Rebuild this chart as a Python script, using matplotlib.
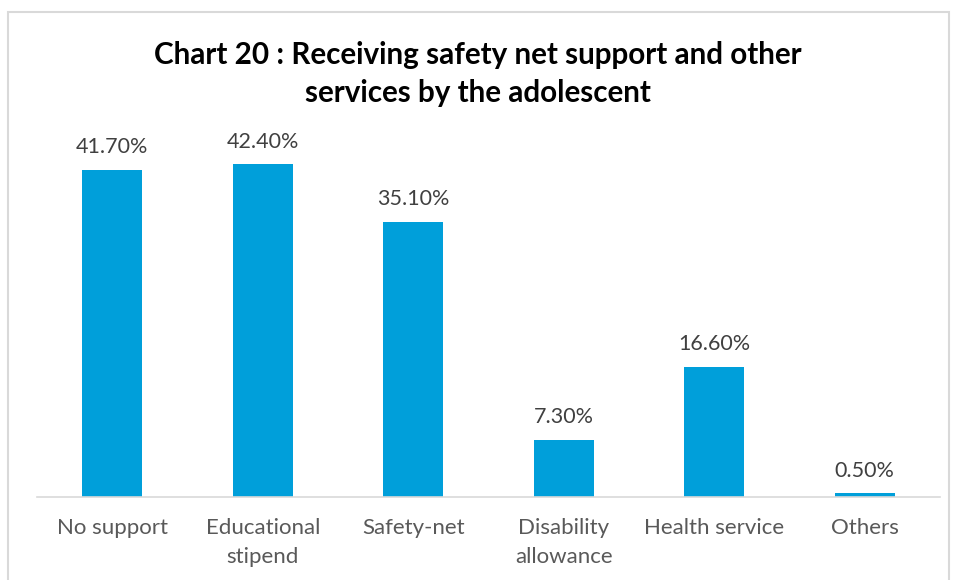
import matplotlib
matplotlib.use("Agg")
import matplotlib.pyplot as plt
from matplotlib.patches import Rectangle

categories = ["No support", "Educational\nstipend", "Safety-net", "Disability\nallowance", "Health service", "Others"]
values = [41.7, 42.4, 35.1, 7.3, 16.6, 0.5]
labels = ["41.70%", "42.40%", "35.10%", "7.30%", "16.60%", "0.50%"]

plt.rcParams['font.family'] = ['Lato', 'DejaVu Sans']

W, H = 956, 580
fig = plt.figure(figsize=(W / 100, H / 100), dpi=100)

# light frame around the whole chart
fig.patches.append(Rectangle((8 / W, -0.01), (949 - 8) / W, 1.01 - 12 / H,
                             transform=fig.transFigure, fill=False,
                             edgecolor="#D9D9D9", linewidth=1.5))

ax = fig.add_axes([37 / W, (H - 497) / H, (940 - 37) / W, (497 - 144) / H])
x = range(len(categories))
ax.bar(x, values, width=0.4, color="#009FDA")
for xi, v, lab in zip(x, values, labels):
    ax.text(xi, v + 1.6, lab, ha="center", va="bottom", fontsize=15.5, color="#404040")

ax.set_xlim(-0.5, len(categories) - 0.5)
ax.set_ylim(0, 45)
ax.set_xticks(list(x))
ax.set_xticklabels(categories, fontsize=16, color="#595959", linespacing=1.6)
ax.tick_params(axis="x", length=0, pad=15)
ax.set_yticks([])
for s in ["top", "right", "left"]:
    ax.spines[s].set_visible(False)
ax.spines["bottom"].set_color("#D9D9D9")
ax.spines["bottom"].set_linewidth(1.2)

fig.text(0.5, 1 - 55 / H, "Chart 20 : Receiving safety net support and other", ha="center", va="center",
         fontsize=21.3, fontweight="bold", color="black")
fig.text(0.5, 1 - 93 / H, "services by the adolescent", ha="center", va="center",
         fontsize=21.3, fontweight="bold", color="black")

fig.savefig("out.png", dpi=100)
